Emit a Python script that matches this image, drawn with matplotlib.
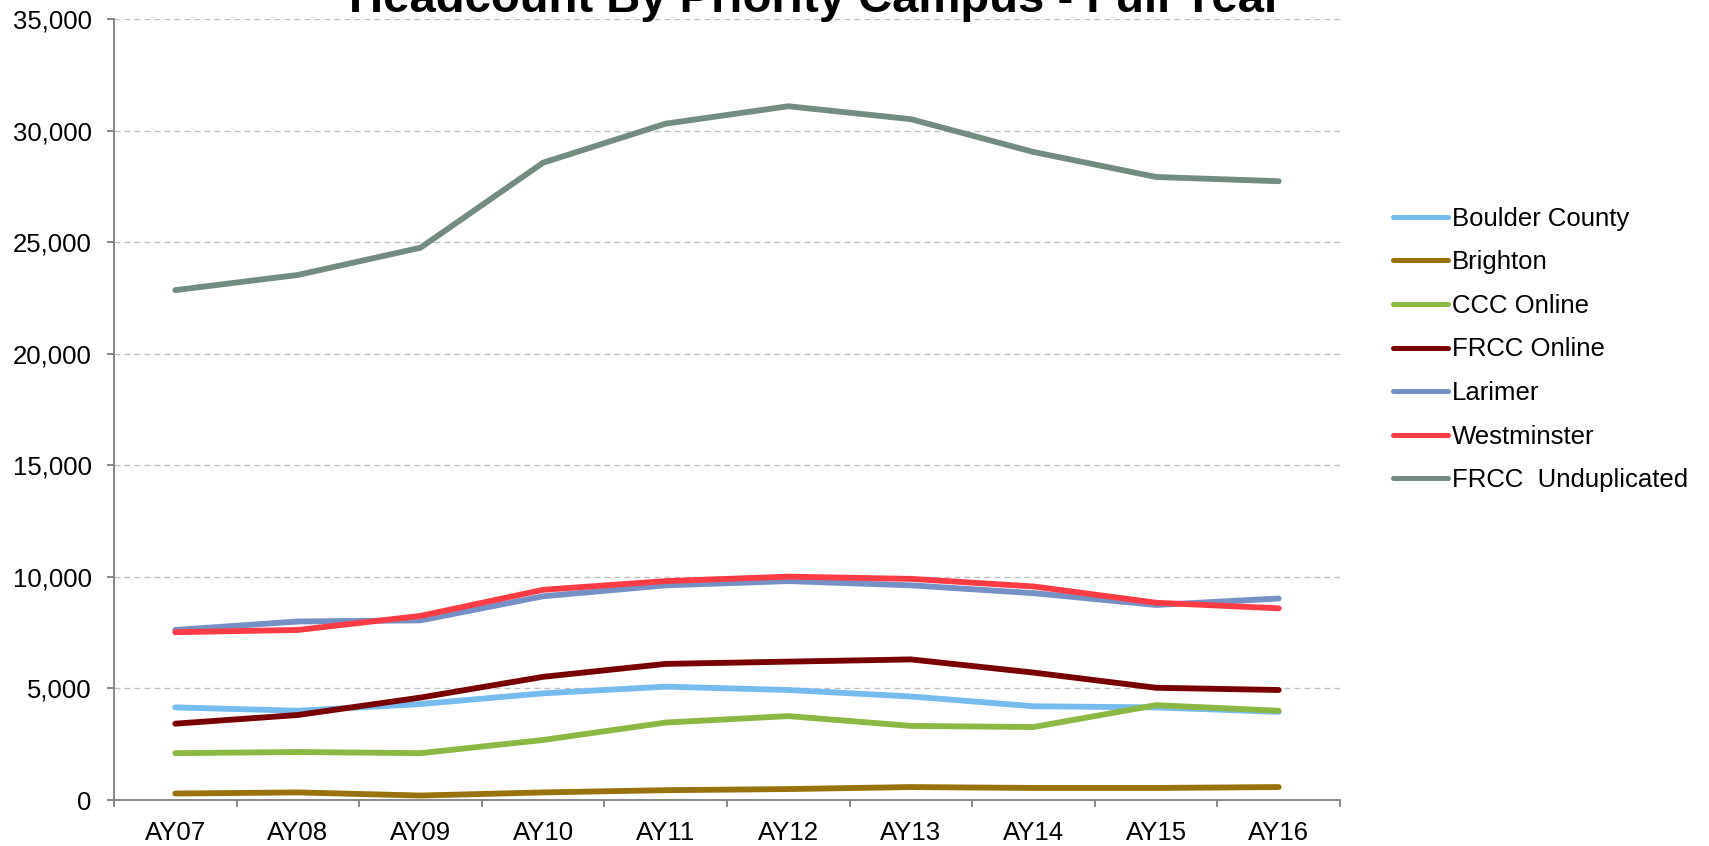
import matplotlib.pyplot as plt

plt.rcParams['font.family'] = ['Liberation Sans', 'DejaVu Sans']

years = ['AY07', 'AY08', 'AY09', 'AY10', 'AY11', 'AY12', 'AY13', 'AY14', 'AY15', 'AY16']

boulder = [4150, 4000, 4300, 4780, 5080, 4930, 4640, 4200, 4150, 3950]
brighton = [290, 340, 200, 340, 440, 490, 580, 540, 540, 580]
ccc_online = [2100, 2150, 2100, 2690, 3470, 3760, 3320, 3270, 4250, 4000]
frcc_online = [3420, 3810, 4590, 5520, 6100, 6200, 6300, 5710, 5030, 4930]
larimer = [7620, 8000, 8050, 9130, 9620, 9810, 9620, 9270, 8740, 9030]
westminster = [7520, 7620, 8250, 9420, 9810, 10010, 9910, 9570, 8840, 8590]
unduplicated = [22850, 23530, 24750, 28560, 30310, 31090, 30510, 29040, 27920, 27730]

series = [
    ('Boulder County', boulder, '#75BBEE'),
    ('Brighton', brighton, '#98720C'),
    ('CCC Online', ccc_online, '#8AB843'),
    ('FRCC Online', frcc_online, '#780000'),
    ('Larimer', larimer, '#7490C5'),
    ('Westminster', westminster, '#FF3B45'),
    ('FRCC  Unduplicated', unduplicated, '#738C80'),
]

fig = plt.figure(figsize=(17.09, 8.46), dpi=100)
ax = fig.add_axes([114 / 1709, 1 - 800 / 846, (1340 - 114) / 1709, (800 - 19) / 846])

x = list(range(len(years)))
for name, vals, col in series:
    ax.plot(x, vals, color=col, lw=4.2, label=name, solid_capstyle='round',
            solid_joinstyle='round')

ax.set_xlim(-0.5, len(years) - 0.5)
ax.set_ylim(0, 35000)
ax.set_yticks(range(0, 35001, 5000))
ax.set_yticklabels(['{:,}'.format(v) for v in range(0, 35001, 5000)])
ax.set_xticks(x)
ax.set_xticklabels(years)
ax.set_xticks([i - 0.5 for i in range(len(years) + 1)], minor=True)

ax.tick_params(axis='x', which='major', length=0, pad=15, labelsize=18.5)
ax.tick_params(axis='x', which='minor', length=5, width=1.3, color='#7f7f7f', direction='out')
ax.tick_params(axis='y', length=5, width=1.3, color='#7f7f7f', pad=11, labelsize=18.5)

for v in range(5000, 35001, 5000):
    ax.axhline(v, color='#c0c0c0', lw=1.0, linestyle=(0, (4.3, 2.9)), zorder=0)

for s in ['top', 'right']:
    ax.spines[s].set_visible(False)
for s in ['left', 'bottom']:
    ax.spines[s].set_color('#7f7f7f')
    ax.spines[s].set_linewidth(1.3)

fig.text(816 / 1709, 1 - 12 / 846, 'Headcount By Priority Campus - Full Year',
         ha='center', va='baseline', fontsize=34, fontweight='bold')

leg = fig.legend(loc='center left', bbox_to_anchor=(1393 / 1709, 1 - 349.5 / 846),
                 frameon=False, fontsize=18.5, handlelength=2.15, handletextpad=0.15,
                 labelspacing=0.76, borderpad=0, borderaxespad=0)
for h in leg.get_lines():
    h.set_linewidth(3.6)

plt.savefig('out.png', dpi=100)
